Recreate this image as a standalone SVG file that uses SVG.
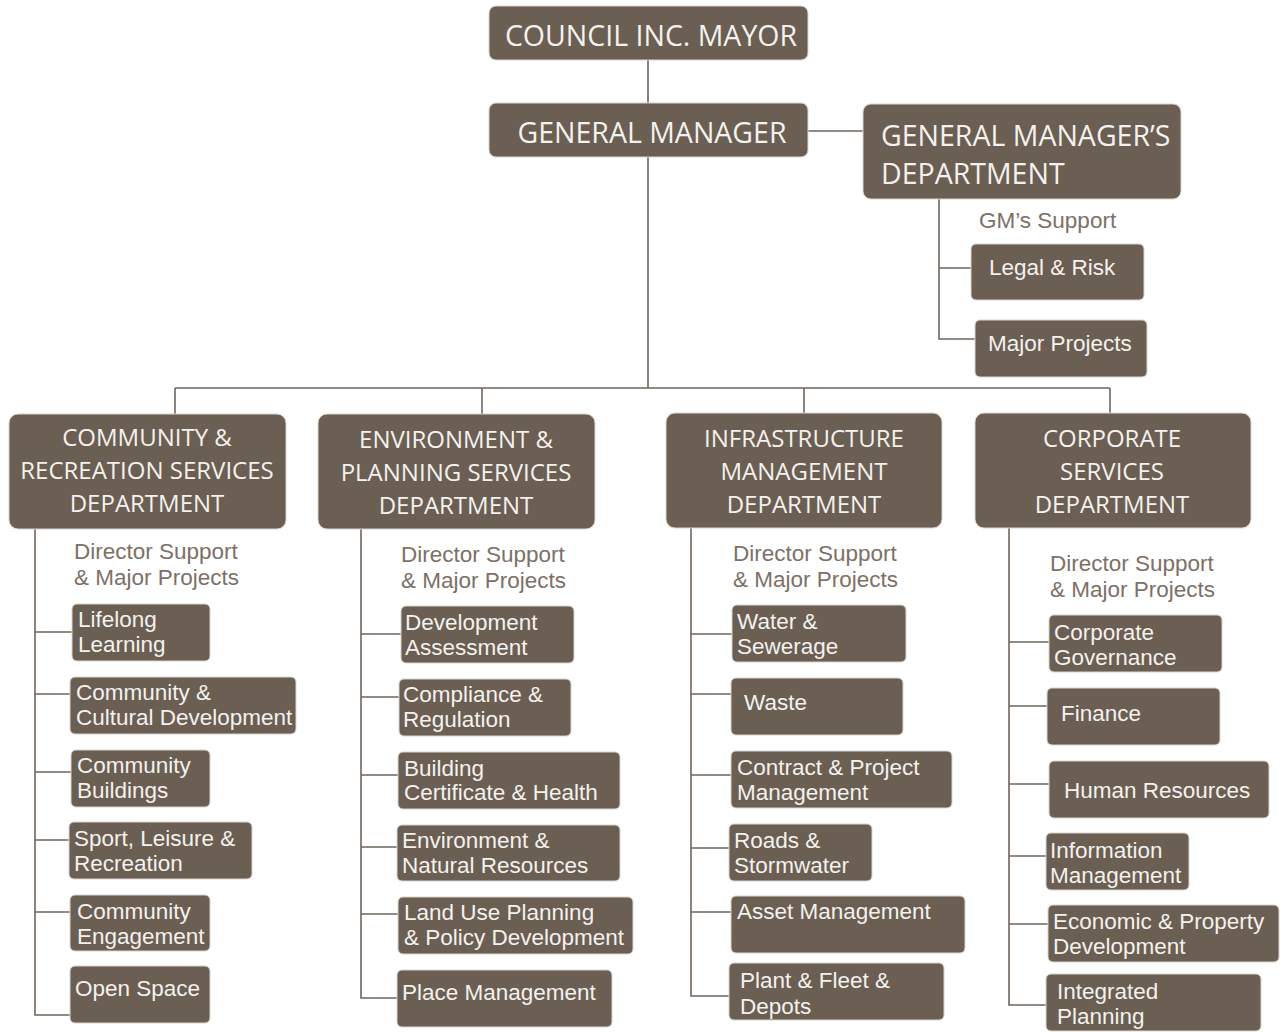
<svg xmlns="http://www.w3.org/2000/svg" width="1280" height="1032" viewBox="0 0 1280 1032">
<style>
.b{fill:#6b5e52;stroke:#d9d4cf;stroke-width:1}
.h{font-family:"Open Sans","Noto Sans",sans-serif;font-size:24px;fill:#f4f1ee}
.t{font-size:28.5px}
.hc{text-anchor:middle}
.s{font-family:"Liberation Sans",Arial,sans-serif;font-size:22.5px;fill:#f4f1ee}
.l{font-family:"Liberation Sans",Arial,sans-serif;font-size:22.5px;fill:#7d7066}
.c{fill:none;stroke:#6f655c;stroke-width:1.6}
</style>
<rect width="1280" height="1032" fill="#ffffff"/>
<g id="connectors" class="c">
<path d="M648 60V103M648 157V388M175 388H1110M175 388V414M482 388V414M804 388V414M1110 388V414"/>
<path d="M790 131H863M939 199V339H975M939 268H975"/>
<path d="M35 529V1015H70M35 632H72M35 694H70M35 772H71M35 840H69M35 912H70"/>
<path d="M361 529V998H397M361 634H401M361 697H399M361 775H398M361 847H397M361 914H398"/>
<path d="M691 528V996H729M691 634H732M691 694H731M691 775H731M691 848H729M691 912H731"/>
<path d="M1009 528V1005H1046M1009 642H1049M1009 706H1047M1009 784H1049M1009 856H1046M1009 924H1048"/>
</g>
<g id="council"><rect class="b" x="489" y="6" width="319" height="54" rx="7"/><text class="h t hc" x="651" y="46">COUNCIL INC. MAYOR</text></g>
<g id="gm"><rect class="b" x="489" y="103" width="319" height="54" rx="7"/><text class="h t hc" x="652" y="143">GENERAL MANAGER</text></g>
<g id="gmdept"><rect class="b" x="863" y="104" width="318" height="95" rx="8"/><text class="h t" x="881" y="146">GENERAL MANAGER’S</text><text class="h t" x="881" y="184">DEPARTMENT</text></g>
<g id="gmsupport"><text class="l" x="979" y="228">GM’s Support</text></g>
<g id="legal"><rect class="b" x="971" y="244" width="173" height="56" rx="5"/><text class="s" x="989" y="275">Legal &amp; Risk</text></g>
<g id="majorprojects"><rect class="b" x="975" y="320" width="172" height="57" rx="5"/><text class="s" x="988" y="351">Major Projects</text></g>

<g id="dept-community"><rect class="b" x="9" y="414" width="277" height="115" rx="9"/><text class="h hc" x="147" y="446">COMMUNITY &amp;</text><text class="h hc" x="147" y="479">RECREATION SERVICES</text><text class="h hc" x="147" y="512">DEPARTMENT</text></g>
<g id="dept-environment"><rect class="b" x="318" y="414" width="277" height="115" rx="9"/><text class="h hc" x="456" y="448">ENVIRONMENT &amp;</text><text class="h hc" x="456" y="481">PLANNING SERVICES</text><text class="h hc" x="456" y="514">DEPARTMENT</text></g>
<g id="dept-infrastructure"><rect class="b" x="666" y="413" width="276" height="115" rx="9"/><text class="h hc" x="804" y="447">INFRASTRUCTURE</text><text class="h hc" x="804" y="480">MANAGEMENT</text><text class="h hc" x="804" y="513">DEPARTMENT</text></g>
<g id="dept-corporate"><rect class="b" x="975" y="413" width="276" height="115" rx="9"/><text class="h hc" x="1112" y="447">CORPORATE</text><text class="h hc" x="1112" y="480">SERVICES</text><text class="h hc" x="1112" y="513">DEPARTMENT</text></g>

<g id="ds-community"><text class="l" x="74" y="559">Director Support</text><text class="l" x="74" y="585">&amp; Major Projects</text></g>
<g id="lifelong"><rect class="b" x="72" y="604" width="138" height="57" rx="5"/><text class="s" x="78" y="627">Lifelong</text><text class="s" x="78" y="652">Learning</text></g>
<g id="ccd"><rect class="b" x="70" y="677" width="226" height="57" rx="5"/><text class="s" x="76" y="700">Community &amp;</text><text class="s" x="76" y="725">Cultural Development</text></g>
<g id="cbuildings"><rect class="b" x="71" y="750" width="139" height="57" rx="5"/><text class="s" x="77" y="773">Community</text><text class="s" x="77" y="798">Buildings</text></g>
<g id="sport"><rect class="b" x="69" y="822" width="183" height="57" rx="5"/><text class="s" x="74" y="846">Sport, Leisure &amp;</text><text class="s" x="74" y="871">Recreation</text></g>
<g id="cengagement"><rect class="b" x="70" y="895" width="140" height="56" rx="5"/><text class="s" x="77" y="919">Community</text><text class="s" x="77" y="944">Engagement</text></g>
<g id="openspace"><rect class="b" x="70" y="966" width="140" height="57" rx="5"/><text class="s" x="75" y="996">Open Space</text></g>

<g id="ds-environment"><text class="l" x="401" y="562">Director Support</text><text class="l" x="401" y="588">&amp; Major Projects</text></g>
<g id="devassess"><rect class="b" x="401" y="606" width="173" height="57" rx="5"/><text class="s" x="405" y="630">Development</text><text class="s" x="405" y="655">Assessment</text></g>
<g id="compliance"><rect class="b" x="399" y="679" width="172" height="57" rx="5"/><text class="s" x="403" y="702">Compliance &amp;</text><text class="s" x="403" y="727">Regulation</text></g>
<g id="building"><rect class="b" x="398" y="752" width="222" height="57" rx="5"/><text class="s" x="404" y="776">Building</text><text class="s" x="404" y="800">Certificate &amp; Health</text></g>
<g id="envnat"><rect class="b" x="397" y="825" width="223" height="56" rx="5"/><text class="s" x="402" y="848">Environment &amp;</text><text class="s" x="402" y="873">Natural Resources</text></g>
<g id="landuse"><rect class="b" x="398" y="897" width="235" height="57" rx="5"/><text class="s" x="404" y="920">Land Use Planning</text><text class="s" x="404" y="945">&amp; Policy Development</text></g>
<g id="place"><rect class="b" x="397" y="970" width="215" height="57" rx="5"/><text class="s" x="402" y="1000">Place Management</text></g>

<g id="ds-infrastructure"><text class="l" x="733" y="561">Director Support</text><text class="l" x="733" y="587">&amp; Major Projects</text></g>
<g id="water"><rect class="b" x="732" y="605" width="174" height="57" rx="5"/><text class="s" x="737" y="629">Water &amp;</text><text class="s" x="737" y="654">Sewerage</text></g>
<g id="waste"><rect class="b" x="731" y="678" width="172" height="57" rx="5"/><text class="s" x="744" y="710">Waste</text></g>
<g id="contract"><rect class="b" x="731" y="751" width="221" height="57" rx="5"/><text class="s" x="737" y="775">Contract &amp; Project</text><text class="s" x="737" y="800">Management</text></g>
<g id="roads"><rect class="b" x="729" y="824" width="143" height="57" rx="5"/><text class="s" x="734" y="848">Roads &amp;</text><text class="s" x="734" y="873">Stormwater</text></g>
<g id="asset"><rect class="b" x="731" y="896" width="234" height="57" rx="5"/><text class="s" x="737" y="919">Asset Management</text></g>
<g id="plant"><rect class="b" x="729" y="963" width="215" height="57" rx="5"/><text class="s" x="740" y="988">Plant &amp; Fleet &amp;</text><text class="s" x="740" y="1014">Depots</text></g>

<g id="ds-corporate"><text class="l" x="1050" y="571">Director Support</text><text class="l" x="1050" y="597">&amp; Major Projects</text></g>
<g id="corpgov"><rect class="b" x="1049" y="615" width="173" height="57" rx="5"/><text class="s" x="1054" y="640">Corporate</text><text class="s" x="1054" y="665">Governance</text></g>
<g id="finance"><rect class="b" x="1047" y="688" width="173" height="57" rx="5"/><text class="s" x="1061" y="721">Finance</text></g>
<g id="hr"><rect class="b" x="1049" y="761" width="220" height="57" rx="5"/><text class="s" x="1064" y="798">Human Resources</text></g>
<g id="infomgmt"><rect class="b" x="1046" y="833" width="143" height="57" rx="5"/><text class="s" x="1050" y="858">Information</text><text class="s" x="1050" y="883">Management</text></g>
<g id="economic"><rect class="b" x="1048" y="905" width="231" height="57" rx="5"/><text class="s" x="1053" y="929">Economic &amp; Property</text><text class="s" x="1053" y="954">Development</text></g>
<g id="integrated"><rect class="b" x="1046" y="974" width="215" height="57" rx="5"/><text class="s" x="1057" y="999">Integrated</text><text class="s" x="1057" y="1024">Planning</text></g>
</svg>
